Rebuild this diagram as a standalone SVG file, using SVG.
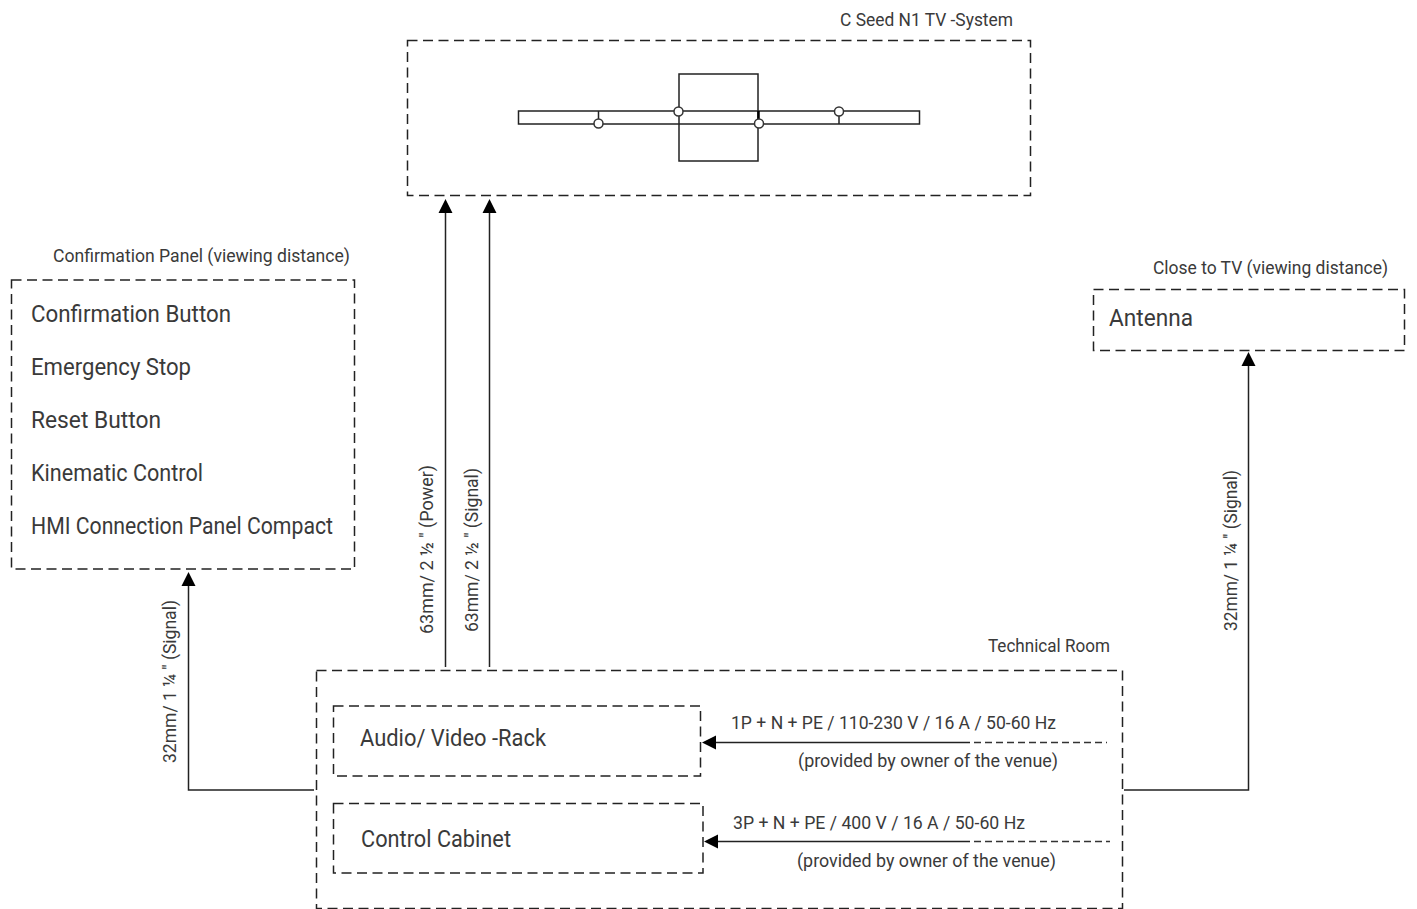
<svg xmlns="http://www.w3.org/2000/svg" width="1417" height="909" viewBox="0 0 1417 909">
<style>
text{font-family:"Roboto","Liberation Sans",sans-serif;fill:#3a3a3a;}
.s{font-size:18px}.m{font-size:18.5px}.l{font-size:24px}
.box{fill:none;stroke:#222;stroke-width:1.5;stroke-dasharray:10 5.500}
.ln{fill:none;stroke:#222;stroke-width:1.5}
.dl{fill:none;stroke:#333;stroke-width:1.300;stroke-dasharray:7 4}
.hd{fill:#000;stroke:none}
.c{fill:#fff;stroke:#333;stroke-width:1.5}
</style>
<rect width="1417" height="909" fill="#fff"/>
<g id="tv-system">
<rect class="box" x="407.5" y="40.5" width="623" height="155"/>
<text class="s" x="840" y="26" textLength="173" lengthAdjust="spacingAndGlyphs">C Seed N1 TV -System</text>
<rect class="ln" x="518.5" y="111" width="401" height="13"/>
<rect class="ln" x="679" y="74" width="79" height="87"/>
<path class="ln" d="M598.5 111V124M839 111V124"/>
<path d="M758.5 111V124" fill="none" stroke="#000" stroke-width="2.5"/>
<circle class="c" cx="598.5" cy="123.5" r="4.5"/>
<circle class="c" cx="678.5" cy="111.5" r="4.5"/>
<circle class="c" cx="759" cy="123.5" r="4.5"/>
<circle class="c" cx="839" cy="111.5" r="4.5"/>
</g>
<g id="confirmation-panel">
<rect class="box" x="11.5" y="280" width="343" height="289"/>
<text class="s" x="53" y="262" textLength="297" lengthAdjust="spacingAndGlyphs">Confirmation Panel (viewing distance)</text>
<text class="l" x="31" y="322" textLength="200" lengthAdjust="spacingAndGlyphs">Confirmation Button</text>
<text class="l" x="31" y="375" textLength="160" lengthAdjust="spacingAndGlyphs">Emergency Stop</text>
<text class="l" x="31" y="428" textLength="130" lengthAdjust="spacingAndGlyphs">Reset Button</text>
<text class="l" x="31" y="481" textLength="172" lengthAdjust="spacingAndGlyphs">Kinematic Control</text>
<text class="l" x="31" y="534" textLength="302" lengthAdjust="spacingAndGlyphs">HMI Connection Panel Compact</text>
</g>
<g id="antenna">
<rect class="box" x="1093.5" y="289.5" width="311" height="61"/>
<text class="s" x="1153" y="274" textLength="235" lengthAdjust="spacingAndGlyphs">Close to TV (viewing distance)</text>
<text class="l" x="1109" y="326" textLength="84" lengthAdjust="spacingAndGlyphs">Antenna</text>
</g>
<g id="technical-room">
<rect class="box" x="316.5" y="670.5" width="806" height="238"/>
<text class="s" x="988" y="652" textLength="122" lengthAdjust="spacingAndGlyphs">Technical Room</text>
</g>
<g id="audio-video-rack">
<rect class="box" x="333.5" y="706" width="367" height="70"/>
<text class="l" x="360" y="746" textLength="186" lengthAdjust="spacingAndGlyphs">Audio/ Video -Rack</text>
</g>
<g id="control-cabinet">
<rect class="box" x="333.5" y="803.5" width="369.500" height="69.500"/>
<text class="l" x="361" y="847" textLength="150" lengthAdjust="spacingAndGlyphs">Control Cabinet</text>
</g>
<g id="connectors">
<path class="ln" d="M445.5 667V212M489.5 667V212"/>
<path class="hd" d="M445.5 199L452.500 213H438.500ZM489.500 199L496.500 213H482.500Z"/>
<path class="ln" d="M314 790H188.500V585"/>
<path class="hd" d="M188.500 572L195.500 586H181.500Z"/>
<path class="ln" d="M1124 790H1248.500V365"/>
<path class="hd" d="M1248.500 352L1255.500 366H1241.500Z"/>
<path class="ln" d="M714 742.500H970M716 841.500H970"/>
<path class="dl" d="M974 742.500H1107M974 841.500H1110"/>
<path class="hd" d="M702 742.500L716 735.500V749.500ZM704 841.500L718 834.500V848.500Z"/>
<text class="s" transform="translate(176 763) rotate(-90)" textLength="163" lengthAdjust="spacingAndGlyphs">32mm/ 1 ¼ '' (Signal)</text>
<text class="s" transform="translate(433 634) rotate(-90)" textLength="169" lengthAdjust="spacingAndGlyphs">63mm/ 2 ½ '' (Power)</text>
<text class="s" transform="translate(478 632) rotate(-90)" textLength="164" lengthAdjust="spacingAndGlyphs">63mm/ 2 ½ '' (Signal)</text>
<text class="s" transform="translate(1237 631) rotate(-90)" textLength="161" lengthAdjust="spacingAndGlyphs">32mm/ 1 ¼ '' (Signal)</text>
<text class="m" x="731" y="729" textLength="325" lengthAdjust="spacingAndGlyphs">1P + N + PE / 110-230 V / 16 A / 50-60 Hz</text>
<text class="m" x="798" y="767" textLength="260" lengthAdjust="spacingAndGlyphs">(provided by owner of the venue)</text>
<text class="m" x="733" y="829" textLength="292" lengthAdjust="spacingAndGlyphs">3P + N + PE / 400 V / 16 A / 50-60 Hz</text>
<text class="m" x="797" y="867" textLength="259" lengthAdjust="spacingAndGlyphs">(provided by owner of the venue)</text>
</g>
</svg>
